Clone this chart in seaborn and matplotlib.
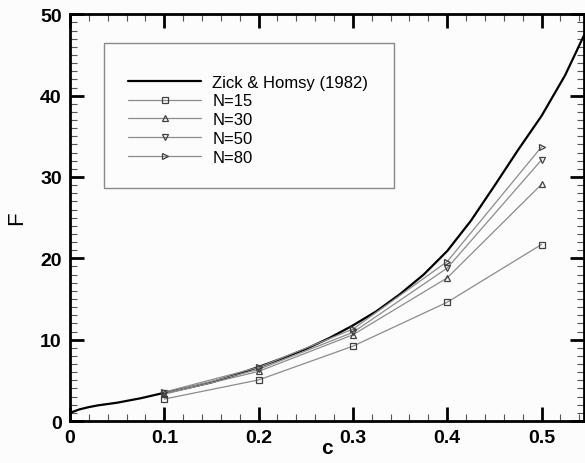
import matplotlib
matplotlib.use("Agg")
import matplotlib.pyplot as plt
from matplotlib.patches import Rectangle
from matplotlib.ticker import MultipleLocator
import pandas as pd
import seaborn as sns

# Zick & Homsy (1982) reference curve
zh_c = [0.0, 0.01, 0.02, 0.03, 0.05, 0.075, 0.1, 0.125, 0.15, 0.175, 0.2, 0.225,
        0.25, 0.275, 0.3, 0.325, 0.35, 0.375, 0.4, 0.425, 0.45, 0.475, 0.5, 0.525, 0.545]
zh_f = [1.0, 1.43, 1.71, 1.93, 2.25, 2.8, 3.47, 4.08, 4.75, 5.65, 6.65, 7.7,
        8.85, 10.2, 11.75, 13.5, 15.6, 18.0, 20.9, 24.6, 28.9, 33.3, 37.5, 42.5, 47.4]

# simulation results
c_vals = [0.1, 0.2, 0.3, 0.4, 0.5]
n15 = [2.7, 5.05, 9.2, 14.6, 21.7]
n30 = [3.3, 6.1, 10.6, 17.6, 29.1]
n50 = [3.4, 6.35, 10.9, 18.8, 32.1]
n80 = [3.55, 6.6, 11.3, 19.6, 33.7]

series = [("N=15", n15, "s"), ("N=30", n30, "^"), ("N=50", n50, "v"), ("N=80", n80, ">")]

sns.set_style("ticks")
plt.rcParams["font.family"] = ["Liberation Sans", "DejaVu Sans"]
plt.rcParams["text.color"] = "black"
plt.rcParams["axes.labelcolor"] = "black"
plt.rcParams["xtick.color"] = "black"
plt.rcParams["ytick.color"] = "black"

fig = plt.figure(figsize=(5.85, 4.64), dpi=100, facecolor="#fcfcfc")
ax = fig.add_axes([0.1197, 0.0905, 0.8785, 0.8765])
ax.set_facecolor("#fcfcfc")

zh_df = pd.DataFrame({"c": zh_c, "F": zh_f})
sns.lineplot(data=zh_df, x="c", y="F", ax=ax, color="black", linewidth=1.6,
             label="Zick & Homsy (1982)", sort=False)

for name, vals, mk in series:
    df = pd.DataFrame({"c": c_vals, "F": vals})
    sns.lineplot(data=df, x="c", y="F", ax=ax, color="#8c8c8c", linewidth=0.9,
                 marker=mk, markersize=5, markerfacecolor="none",
                 markeredgecolor="#404040", markeredgewidth=0.9, label=name)

ax.set_xlim(0, 0.545)
ax.set_ylim(0, 50)
ax.xaxis.set_major_locator(MultipleLocator(0.1))
ax.xaxis.set_minor_locator(MultipleLocator(0.02))
ax.yaxis.set_major_locator(MultipleLocator(10))
ax.yaxis.set_minor_locator(MultipleLocator(1))
ax.set_xticks([0, 0.1, 0.2, 0.3, 0.4, 0.5])
ax.set_xticklabels(["0", "0.1", "0.2", "0.3", "0.4", "0.5"])

ax.tick_params(which="both", direction="in", top=True, right=True)
ax.tick_params(which="major", length=10, width=2, labelsize=14, pad=6)
ax.tick_params(which="minor", length=5, width=0.8, color="#555555")
for lab in ax.get_xticklabels() + ax.get_yticklabels():
    lab.set_fontweight("bold")
for sp in ax.spines.values():
    sp.set_linewidth(2)
    sp.set_color("black")

ax.set_xlabel("c", fontsize=15, fontweight="bold", labelpad=-6)
ax.set_ylabel("F", fontsize=16, labelpad=9)

ax.add_patch(Rectangle((0.066, 0.572), 0.564, 0.357, transform=ax.transAxes,
                       fill=False, edgecolor="#8a8a8a", linewidth=1, zorder=1))
ax.legend(loc="upper left", bbox_to_anchor=(0.113, 0.852), frameon=False,
          fontsize=12, handlelength=4.4, handletextpad=0.65, labelspacing=0.23,
          borderpad=0, borderaxespad=0)

fig.savefig("out.png", dpi=100, facecolor=fig.get_facecolor())
